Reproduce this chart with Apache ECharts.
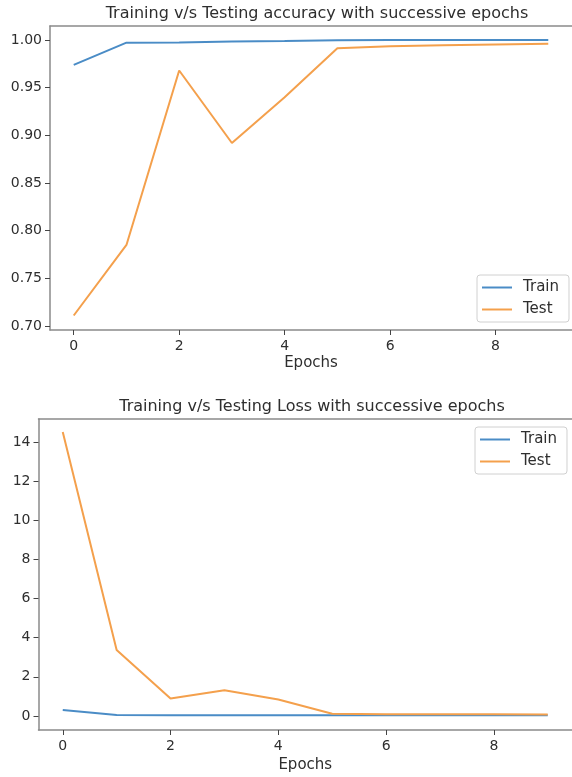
<!DOCTYPE html>
<html>
<head>
<meta charset="utf-8">
<script src="https://cdn.jsdelivr.net/npm/echarts@6/dist/echarts.min.js"></script>
<style>
html,body{margin:0;padding:0;background:#fff;}
#chart{width:572px;height:777px;}
</style>
</head>
<body>
<div id="chart"></div>
<script>
const epochs = [0, 1, 2, 3, 4, 5, 6, 7, 8, 9];
const accTrain = [0.974, 0.9972, 0.9973, 0.9985, 0.999, 0.9998, 0.9999, 0.9999, 0.9999, 0.9999];
const accTest = [0.711, 0.785, 0.968, 0.892, 0.940, 0.9913, 0.9934, 0.9944, 0.9952, 0.9960];
const lossTrain = [0.30, 0.05, 0.04, 0.04, 0.04, 0.04, 0.03, 0.03, 0.03, 0.03];
const lossTest = [14.52, 3.37, 0.89, 1.31, 0.84, 0.11, 0.09, 0.08, 0.08, 0.07];
const xTicks = [0, 2, 4, 6, 8];
const accTicks = [0.70, 0.75, 0.80, 0.85, 0.90, 0.95, 1.00];
const lossTicks = [0, 2, 4, 6, 8, 10, 12, 14];
const titles = ['Training v/s Testing accuracy with successive epochs', 'Training v/s Testing Loss with successive epochs'];

const FONT = 'DejaVu Sans';
const TXT = '#2e2e2e';
const FRAME = '#8a8a8a';
const BLUE = '#4a8cc6';
const ORANGE = '#f4a04c';

const chart = echarts.init(document.getElementById('chart'), null, {renderer: 'canvas'});

const frameLine = {show: true, onZero: false, lineStyle: {color: FRAME, width: 1.5}};

function xAxis(gi, nameGap) {
  return {
    type: 'value', gridIndex: gi, min: -0.45, max: 9.45, position: 'bottom',
    name: 'Epochs', nameLocation: 'middle', nameGap: nameGap,
    nameTextStyle: {fontFamily: FONT, fontSize: 15, color: TXT},
    axisLine: frameLine,
    axisTick: {show: true, inside: false, length: 5, lineStyle: {color: '#444', width: 1}, customValues: xTicks},
    axisLabel: {fontFamily: FONT, fontSize: 14, color: TXT, margin: 9, customValues: xTicks},
    splitLine: {show: false}
  };
}
function xTop(gi) {
  return {
    type: 'value', gridIndex: gi, min: -0.45, max: 9.45, position: 'top',
    axisLine: frameLine, axisTick: {show: false}, axisLabel: {show: false}, splitLine: {show: false}
  };
}
function yAxis(gi, min, max, ticks, dec) {
  return {
    type: 'value', gridIndex: gi, min: min, max: max, position: 'left',
    axisLine: frameLine,
    axisTick: {show: true, inside: false, length: 5, lineStyle: {color: '#444', width: 1}, customValues: ticks},
    axisLabel: {fontFamily: FONT, fontSize: 14, color: TXT, margin: 8, customValues: ticks,
      formatter: v => dec ? v.toFixed(dec) : String(Math.round(v))},
    splitLine: {show: false}
  };
}
function legend(left, top) {
  return {
    data: ['Train', 'Test'], orient: 'vertical', left: left, top: top,
    icon: 'rect', itemWidth: 30, itemHeight: 2, itemGap: 5,
    padding: [4, 10, 4, 5], borderColor: '#d0d0d0', borderWidth: 1, borderRadius: 3,
    textStyle: {fontFamily: FONT, fontSize: 15, color: TXT, lineHeight: 17, padding: [0, 0, 0, 6]}
  };
}
function pairs(ys) { return epochs.map((e, i) => [e, ys[i]]); }
function line(name, xi, yi, ys, color) {
  return {name: name, type: 'line', xAxisIndex: xi, yAxisIndex: yi, data: pairs(ys),
    showSymbol: false, symbol: 'none', lineStyle: {color: color, width: 2}, itemStyle: {color: color}};
}

chart.setOption({
  animation: false,
  backgroundColor: '#fff',
  title: [
    {text: titles[0], left: 312, top: 1, textAlign: 'center',
     textStyle: {fontFamily: FONT, fontSize: 16, fontWeight: 'normal', color: TXT}},
    {text: titles[1], left: 307, top: 394, textAlign: 'center',
     textStyle: {fontFamily: FONT, fontSize: 16, fontWeight: 'normal', color: TXT}}
  ],
  grid: [
    {left: 50, top: 26, width: 524, height: 304},
    {left: 38.5, top: 419, width: 537, height: 311}
  ],
  xAxis: [xAxis(0, 26), xTop(0), xAxis(1, 28), xTop(1)],
  yAxis: [yAxis(0, 0.6958, 1.0147, accTicks, 2), yAxis(1, -0.72, 15.18, lossTicks, 0)],
  legend: [legend(477, 275), legend(475, 427)],
  series: [
    line('Train', 0, 0, accTrain, BLUE),
    line('Test', 0, 0, accTest, ORANGE),
    line('Train', 2, 1, lossTrain, BLUE),
    line('Test', 2, 1, lossTest, ORANGE)
  ]
});
</script>
</body>
</html>
